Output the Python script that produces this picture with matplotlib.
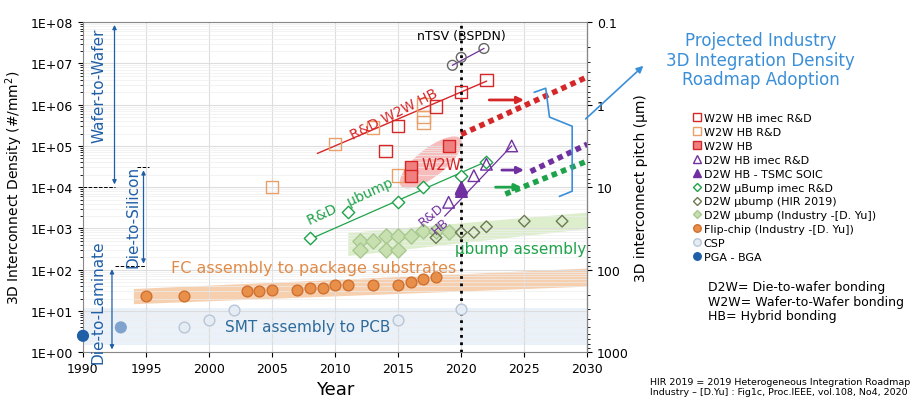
import numpy as np
import matplotlib.pyplot as plt
from matplotlib.patches import FancyArrowPatch
from matplotlib.lines import Line2D

plt.rcParams['font.family'] = ['DejaVu Sans']

RED = '#d62728'
ORG = '#e8a06a'
PUR = '#7030a0'
GRN = '#1fa34a'
BLUE = '#1f5fa8'

# data: (year, density #/mm2)
w2w_imec = [(2014, 7.5e4), (2015, 3e5), (2018, 9e5), (2020, 2e6), (2022, 4e6)]
w2w_rd = [(2005, 1e4), (2010, 1.1e5), (2013, 2.8e5), (2017, 1e6), (2017, 5e5), (2017, 3.7e5), (2015, 1.9e4)]
w2w_hb = [(2016, 3e4), (2016, 1.9e4), (2019, 1e5)]
d2w_hb_imec = [(2019, 4.3e3), (2020, 9e3), (2021, 1.9e4), (2022, 3.6e4), (2024, 1e5)]
d2w_soic = [(2020, 1e4), (2020, 8e3)]
ubump_imec = [(2008, 6e2), (2011, 2.5e3), (2015, 4.3e3), (2017, 1e4), (2020, 1.9e4), (2022, 4e4)]
ubump_hir = [(2018, 6e2), (2020, 8e2), (2021, 8e2), (2022, 1.1e3), (2025, 1.5e3), (2028, 1.5e3)]
ubump_ind = [(2012, 500), (2012, 300), (2013, 500), (2014, 650), (2014, 300), (2015, 650), (2015, 300),
             (2016, 650), (2017, 850), (2018, 850), (2019, 800)]
flipchip = [(1995, 23), (1998, 23), (2003, 30), (2004, 30), (2005, 32), (2007, 32), (2008, 37), (2009, 37),
            (2010, 42), (2011, 42), (2013, 42), (2015, 42), (2016, 50), (2017, 59), (2018, 66)]
csp = [(1998, 4), (2000, 6), (2002, 10.5), (2015, 6), (2020, 11)]
nstv = [(2019.3, 9e6), (2020, 1.4e7), (2021.8, 2.3e7)]
pga = [(1990, 2.5), (1993, 4)]

fig = plt.figure(figsize=(9.22, 4.06), dpi=100)
ax = fig.add_axes([0.090, 0.130, 0.547, 0.813])
ax.set_yscale('log')
ax.set_xlim(1990, 2030)
ax.set_ylim(1, 1e8)
ax.set_xticks(range(1990, 2031, 5))
ax.set_yticks([10.0 ** i for i in range(9)])
ax.set_yticklabels(['1E+%02d' % i for i in range(9)], fontsize=9)
ax.tick_params(axis='x', labelsize=9)
ax.grid(True, which='major', color='#dddddd', lw=0.8)
ax.grid(True, which='minor', axis='y', color='#eeeeee', lw=0.5)
ax.set_xlabel('Year', fontsize=13)
ax.set_ylabel('3D Interconnect Density (#/mm$^2$)', fontsize=10)
for s in ax.spines.values():
    s.set_color('#888888')

# shaded bands
ax.fill_between([1990, 2030], 1.5, 12, color='#dde8f5', alpha=0.6, lw=0)
ax.fill_between([1994, 2030], [15, 40], [35, 110], color='#f0b07a', alpha=0.6, lw=0)
ax.fill_between([2011, 2030], [2.2e2, 1.0e3], [8e2, 2.5e3], color='#cfe8b8', alpha=0.7, lw=0)
# W2W ellipse, built in pixel-like units (12.6 px/year, 41 px/decade)
t = np.linspace(0, 2 * np.pi, 100)
u, v = 38 * np.cos(t), 14 * np.sin(t)
ang = np.deg2rad(38)
ex = 2017.6 + (u * np.cos(ang) - v * np.sin(ang)) / 12.6
ey = 4.6 + (u * np.sin(ang) + v * np.cos(ang)) / 41
ax.fill(ex, 10 ** ey, color='#f4a0a0', alpha=0.7, lw=0)

def xy(d):
    a = np.array(d)
    return a[:, 0], a[:, 1]

# trend lines
ax.plot([2008.6, 2022], [6.6e4, 3.7e6], color=RED, lw=1)
ax.plot([2008, 2022], [5.5e2, 4.2e4], color=GRN, lw=0.9)
ax.plot([2018.7, 2024], [2e3, 1e5], color=PUR, lw=0.9)
ax.plot([2019.3, 2021.8], [9e6, 2.3e7], color=PUR, lw=0.9)

# projections
ax.plot([2020, 2030], [1.9e5, 4.7e6], color=RED, lw=4, ls=(0, (1, 0.8)))
ax.plot([2025.5, 2030], [2.4e4, 1.1e5], color=PUR, lw=4, ls=(0, (1, 0.8)))
ax.plot([2023.5, 2030], [6.8e3, 4.3e4], color=GRN, lw=4, ls=(0, (1, 0.8)))
for x0, x1, y, c in [(2022, 2025.2, 1.3e6, RED), (2023, 2025.2, 2.6e4, PUR), (2022.5, 2025, 1e4, GRN)]:
    ax.annotate('', xy=(x1, y), xytext=(x0, y),
                arrowprops=dict(arrowstyle='-|>', color=c, lw=2, mutation_scale=10))

ax.axvline(2020, color='black', ls=':', lw=2)

x, y = xy(csp)
ax.scatter(x, y, s=60, facecolor='#e6ecf4', edgecolor='#b8c6d8', zorder=3)
x, y = xy(pga)
ax.scatter(x, y, s=60, color=[BLUE, '#7fa3cc'], zorder=3, clip_on=False)
x, y = xy(flipchip)
ax.scatter(x, y, s=60, facecolor='#e8904a', edgecolor='#d07030', zorder=3)
x, y = xy(ubump_ind)
ax.scatter(x, y, s=60, marker='D', facecolor='#c8e0b0', edgecolor='#a8c890', zorder=3)
x, y = xy(ubump_hir)
ax.scatter(x, y, s=35, marker='D', facecolor='none', edgecolor='#6b7a50', zorder=3)
x, y = xy(ubump_imec)
ax.scatter(x, y, s=40, marker='D', facecolor='white', edgecolor=GRN, zorder=3)
x, y = xy(w2w_rd)
ax.scatter(x, y, s=80, marker='s', facecolor='none', edgecolor=ORG, zorder=3)
x, y = xy(w2w_hb)
ax.scatter(x, y, s=80, marker='s', facecolor='#f08080', edgecolor=RED, zorder=3)
x, y = xy(w2w_imec)
ax.scatter(x, y, s=80, marker='s', facecolor='none', edgecolor=RED, zorder=3)
x, y = xy(d2w_hb_imec)
ax.scatter(x, y, s=70, marker='^', facecolor='none', edgecolor=PUR, zorder=3)
x, y = xy(d2w_soic)
ax.scatter(x, y, s=70, marker='^', color=PUR, zorder=3)
x, y = xy(nstv)
ax.scatter(x, y, s=50, facecolor='none', edgecolor='#666666', zorder=3)

# labels in plot
ax.text(2020, 4e7, 'nTSV (BSPDN)', ha='center', fontsize=9)
ax.text(2014.7, 6e5, 'R&D W2W HB', color=RED, fontsize=10, rotation=27, ha='center', va='center')
ax.text(2018.4, 3.5e4, 'W2W', color=RED, fontsize=11, ha='center', va='center')
ax.text(2011.2, 4.5e3, 'R&D   µbump', color=GRN, fontsize=10, rotation=25, ha='center', va='center')
ax.text(2018, 1.6e3, 'R&D\nHB', color=PUR, fontsize=9, rotation=40, ha='center', va='center')
ax.text(2019.5, 3.3e2, 'µbump assembly to Si', color=GRN, fontsize=11, va='center', clip_on=True)
ax.text(1997, 1.1e2, 'FC assembly to package substrates', color='#e08a48', fontsize=11.5, va='center')
ax.text(2001.3, 4.2, 'SMT assembly to PCB', color='#2e6a9a', fontsize=11, va='center')

# vertical range arrows
def vr(xp, xt, y0, y1, txt, yt):
    ax.annotate('', xy=(xp, y1), xytext=(xp, y0),
                arrowprops=dict(arrowstyle='<|-|>', color=BLUE, lw=0.9, mutation_scale=6))
    ax.text(xt, yt, txt, color=BLUE, fontsize=11, rotation=90, ha='center', va='center')

vr(1992.5, 1991.3, 1.0e8, 1.0e4, 'Wafer-to-Wafer', 3e6)
vr(1994.8, 1994.0, 3e4, 1.2e2, 'Die-to-Silicon', 2e3)
vr(1992.3, 1991.2, 1.2e2, 1.0, 'Die-to-Laminate', 17)
ax.plot([1990, 1992.5], [1e4, 1e4], color='black', ls='--', lw=0.7)
ax.plot([1994.3, 1995.2], [3e4, 3e4], color='black', ls='--', lw=0.7)
ax.plot([1992.5, 1995], [1.2e2, 1.2e2], color='black', ls='--', lw=0.7)

# right axis: pitch in um
sec = ax.secondary_yaxis('right', functions=(lambda d: 1000 / np.sqrt(np.clip(d, 1e-12, None)),
                                             lambda p: (1000 / np.clip(p, 1e-12, None)) ** 2))
sec.set_yticks([0.1, 1, 10, 100, 1000])
sec.set_yticklabels(['0.1', '1', '10', '100', '1000'], fontsize=9)
sec.set_ylabel('3D interconnect pitch (µm)', fontsize=10)

# projected text and bracket
fig.text(0.825, 0.85, 'Projected Industry\n3D Integration Density\nRoadmap Adoption', color='#3a8fd8',
         fontsize=12, ha='center', va='center', linespacing=1.1)
ax.plot([2025.8, 2026.7, 2027, 2028.8, 2028.8, 2027.8], [2e6, 2.5e6, 5e5, 3e5, 8e3, 6e3],
        color='#3a8fd8', lw=1.2, clip_on=False)
fig.add_artist(FancyArrowPatch((0.633, 0.7), (0.70, 0.84), transform=fig.transFigure,
                               arrowstyle='-|>', color='#3a8fd8', lw=1.2, mutation_scale=10))

handles = [
    Line2D([], [], marker='s', ls='', mfc='none', mec=RED, label='W2W HB imec R&D'),
    Line2D([], [], marker='s', ls='', mfc='none', mec=ORG, label='W2W HB R&D'),
    Line2D([], [], marker='s', ls='', mfc='#f08080', mec=RED, label='W2W HB'),
    Line2D([], [], marker='^', ls='', mfc='none', mec=PUR, label='D2W HB imec R&D'),
    Line2D([], [], marker='^', ls='', color=PUR, label='D2W HB - TSMC SOIC'),
    Line2D([], [], marker='D', ls='', mfc='none', mec=GRN, ms=5, label='D2W µBump imec R&D'),
    Line2D([], [], marker='D', ls='', mfc='none', mec='#6b7a50', ms=5, label='D2W µbump (HIR 2019)'),
    Line2D([], [], marker='D', ls='', mfc='#c8e0b0', mec='#a8c890', ms=5, label='D2W µbump (Industry -[D. Yu])'),
    Line2D([], [], marker='o', ls='', mfc='#e8904a', mec='#d07030', label='Flip-chip (Industry -[D. Yu])'),
    Line2D([], [], marker='o', ls='', mfc='#e6ecf4', mec='#b8c6d8', label='CSP'),
    Line2D([], [], marker='o', ls='', color=BLUE, label='PGA - BGA'),
]
fig.legend(handles=handles, loc='upper left', bbox_to_anchor=(0.745, 0.73), frameon=False, fontsize=8,
           handletextpad=0.1, labelspacing=0.35, handlelength=1, borderaxespad=0, markerscale=0.9)

fig.text(0.768, 0.255, 'D2W= Die-to-wafer bonding\nW2W= Wafer-to-Wafer bonding\nHB= Hybrid bonding',
         fontsize=9, va='center', linespacing=1.15)
fig.text(0.705, 0.045, 'HIR 2019 = 2019 Heterogeneous Integration Roadmap\nIndustry – [D.Yu] : Fig1c, Proc.IEEE, vol.108, No4, 2020',
         fontsize=6.8, va='center')

fig.savefig('out.png', dpi=100)
